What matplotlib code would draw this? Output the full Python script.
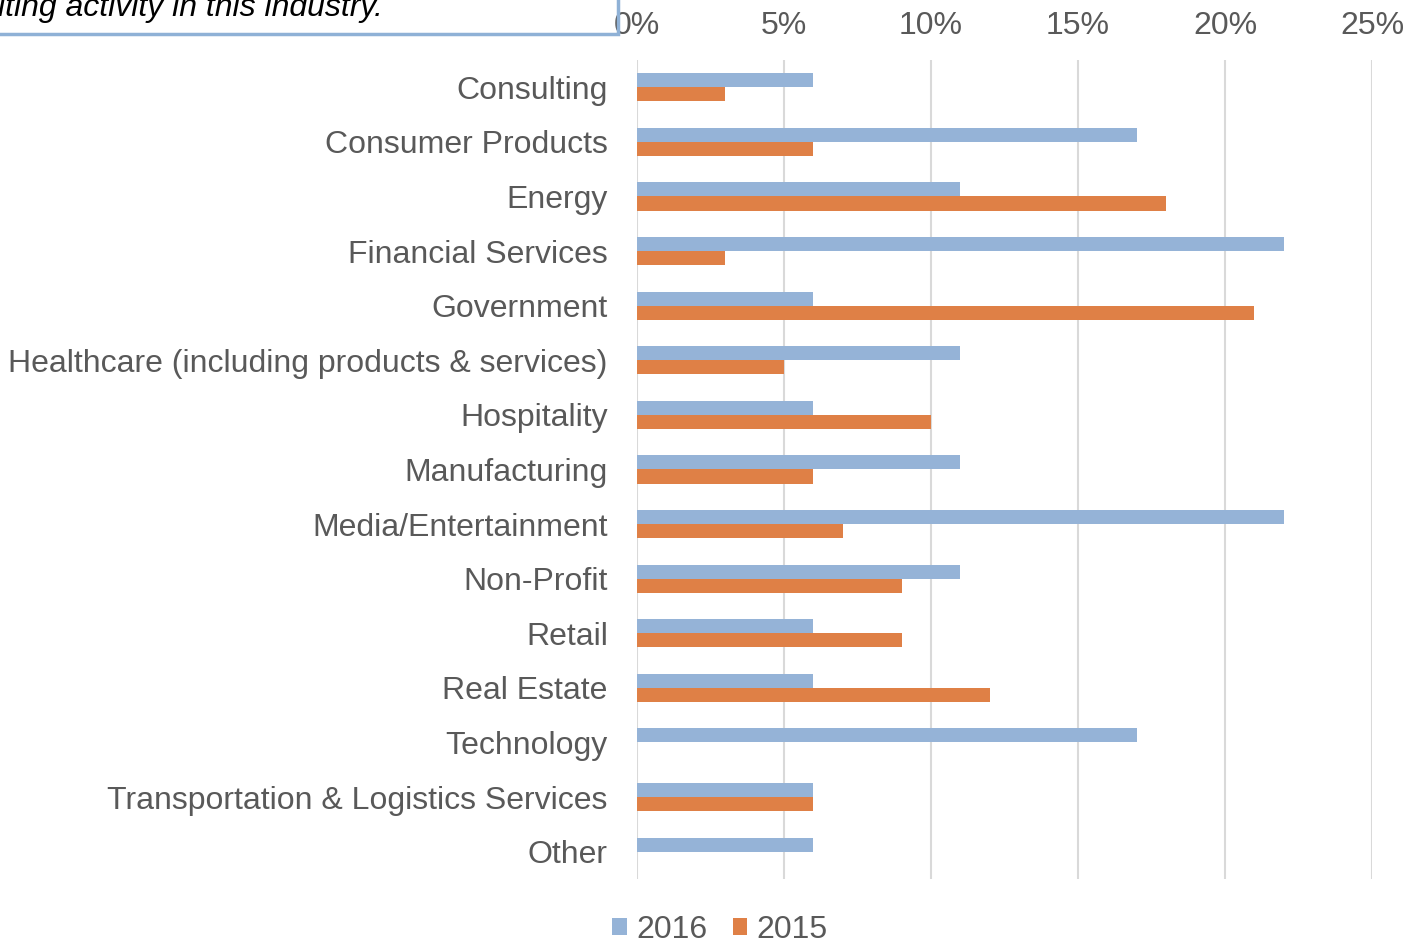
import numpy as np
import matplotlib.pyplot as plt
from matplotlib.patches import Rectangle

plt.rcParams['font.family'] = ['Liberation Sans', 'DejaVu Sans']

industries = ['Consulting', 'Consumer Products', 'Energy', 'Financial Services',
              'Government', 'Healthcare (including products & services)',
              'Hospitality', 'Manufacturing', 'Media/Entertainment', 'Non-Profit',
              'Retail', 'Real Estate', 'Technology',
              'Transportation & Logistics Services', 'Other']
pct_2016 = [6, 17, 11, 22, 6, 11, 6, 11, 22, 11, 6, 6, 17, 6, 6]
pct_2015 = [3, 6, 18, 3, 21, 5, 10, 6, 7, 9, 9, 12, 0, 6, 0]
xticks = [0, 5, 10, 15, 20, 25]

blue = '#95B3D7'
orange = '#DF8046'
grey = '#595959'
fs = 23

W, H = 1413, 946
fig = plt.figure(figsize=(W / 100, H / 100), dpi=100)
ax = fig.add_axes([637 / W, 1 - 879 / H, (1372 - 637) / W, (879 - 60) / H])

y = np.arange(len(industries))
h = 0.26
ax.barh(y - h / 2, pct_2016, h, color=blue, label='2016', zorder=3)
ax.barh(y + h / 2, pct_2015, h, color=orange, label='2015', zorder=3)

ax.set_ylim(len(industries) - 0.5, -0.5)
ax.set_xlim(0, 25)
ax.set_yticks(y)
ax.set_yticklabels(industries, fontsize=fs, color=grey)
ax.set_xticks(xticks)
ax.set_xticklabels([f'{t}%' for t in xticks], fontsize=fs, color=grey)
ax.xaxis.tick_top()
ax.tick_params(axis='x', length=0, pad=14)
ax.tick_params(axis='y', length=0, pad=21)
for s in ax.spines.values():
    s.set_visible(False)
ax.grid(axis='x', color='#D9D9D9', linewidth=1.5, zorder=0)

leg = fig.legend(loc='center', bbox_to_anchor=(720 / W, 1 - 930 / H), ncol=2,
                 frameon=False, fontsize=fs, handlelength=0.45, handleheight=0.45,
                 handletextpad=0.3, columnspacing=0.8)
for t in leg.get_texts():
    t.set_color(grey)

# cut-off note box at top left (cropped in the original too)
fig.patches.append(Rectangle((-10 / W, 1 - 34 / H), 628 / W, 60 / H,
                             transform=fig.transFigure, fill=False,
                             edgecolor='#8FB1D6', linewidth=2.5))
fig.text(383 / W, 1 - 16 / H, 'iting activity in this industry.', ha='right',
         va='baseline', fontsize=fs, style='italic', color='black')

fig.savefig('out.png', dpi=100)
